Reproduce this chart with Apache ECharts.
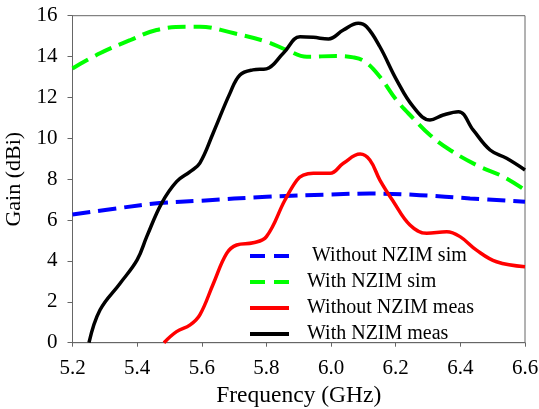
<!DOCTYPE html>
<html>
<head>
<meta charset="utf-8">
<script src="https://cdn.jsdelivr.net/npm/echarts@6/dist/echarts.min.js"></script>
<style>html,body{margin:0;padding:0;background:#fff}#c{width:539px;height:409px}</style>
</head>
<body>
<div id="c"></div>
<script>
// Series names
const names = ['Without NZIM sim', 'With NZIM sim', 'Without NZIM meas', 'With NZIM meas'];

// Without NZIM sim (blue dashed)
const woSimF = [5.2, 5.35, 5.47, 5.6, 5.8, 6.0, 6.12, 6.275, 6.43, 6.6];
const woSimG = [6.27, 6.6, 6.83, 6.95, 7.14, 7.25, 7.3, 7.22, 7.06, 6.9];

// With NZIM sim (green dashed)
const wSimF = [5.2, 5.285, 5.378, 5.46, 5.553, 5.594, 5.697, 5.80, 5.863, 5.925, 6.017, 6.069, 6.105, 6.151, 6.203, 6.254, 6.306, 6.368, 6.45, 6.533, 6.6];
const wSimG = [13.42, 14.16, 14.8, 15.3, 15.46, 15.46, 15.15, 14.73, 14.32, 13.99, 14.03, 13.96, 13.75, 13.01, 11.86, 10.98, 10.16, 9.43, 8.69, 8.12, 7.47];

// Without NZIM meas (red)
const woMeasF = [5.483, 5.522, 5.564, 5.594, 5.636, 5.677, 5.708, 5.759, 5.80, 5.857, 5.894, 5.914, 5.945, 5.997, 6.038, 6.09, 6.12, 6.151, 6.193, 6.244, 6.296, 6.358, 6.399, 6.45, 6.512, 6.6];
const woMeasG = [0, 0.54, 0.87, 1.36, 2.9, 4.37, 4.78, 4.89, 5.19, 6.97, 7.95, 8.2, 8.29, 8.29, 8.78, 9.23, 8.94, 7.96, 6.9, 5.76, 5.35, 5.43, 5.19, 4.53, 3.96, 3.72];

// With NZIM meas (black)
const wMeasF = [5.251, 5.285, 5.347, 5.40, 5.43, 5.476, 5.522, 5.564, 5.594, 5.635, 5.687, 5.718, 5.758, 5.80, 5.852, 5.904, 5.945, 5.992, 6.038, 6.084, 6.11, 6.151, 6.203, 6.254, 6.306, 6.347, 6.394, 6.44, 6.492, 6.543, 6.6];
const wMeasG = [0, 1.6, 2.9, 4.05, 5.2, 6.83, 7.88, 8.37, 8.79, 10.25, 12.2, 13.1, 13.35, 13.4, 14.16, 14.97, 14.94, 14.86, 15.3, 15.63, 15.46, 14.48, 12.85, 11.55, 10.9, 11.14, 11.3, 10.4, 9.43, 9.02, 8.45];

// Axis ticks
const xTicks = [5.2, 5.4, 5.6, 5.8, 6.0, 6.2, 6.4, 6.6];
const yTicks = [0, 2, 4, 6, 8, 10, 12, 14, 16];

const zip = (f, g) => f.map((v, i) => [v, g[i]]);
const font = 'Liberation Serif';
const axisGray = '#666';

const chart = echarts.init(document.getElementById('c'));
chart.setOption({
  animation: false,
  grid: { left: 72.5, right: 14, top: 15.7, bottom: 66.3, show: true, borderColor: axisGray, borderWidth: 1,
          containLabel: false, outerBoundsMode: 'none' },
  xAxis: {
    type: 'value', min: xTicks[0], max: xTicks[xTicks.length - 1], interval: 0.2,
    name: 'Frequency (GHz)', nameLocation: 'middle', nameGap: 32,
    nameTextStyle: { fontFamily: font, fontSize: 23.5, color: '#000' },
    axisLine: { lineStyle: { color: axisGray, width: 1 } },
    axisTick: { inside: false, length: 4, lineStyle: { color: axisGray } },
    axisLabel: { fontFamily: font, fontSize: 21, color: '#000', margin: 15, formatter: v => v.toFixed(1) },
    splitLine: { show: false }
  },
  yAxis: {
    type: 'value', min: yTicks[0], max: yTicks[yTicks.length - 1], interval: 2,
    name: 'Gain (dBi)', nameLocation: 'middle', nameGap: 34,
    nameTextStyle: { fontFamily: font, fontSize: 22, color: '#000' },
    axisLine: { show: true, lineStyle: { color: axisGray, width: 1 } },
    axisTick: { show: true, inside: false, length: 5, lineStyle: { color: axisGray } },
    axisLabel: { fontFamily: font, fontSize: 21, color: '#000', margin: 15 },
    splitLine: { show: false }
  },
  legend: {
    orient: 'vertical', left: 248, top: 246, padding: 0, itemWidth: 39, itemHeight: 14, itemGap: 6,
    itemStyle: { opacity: 0 },
    lineStyle: { width: 4 },
    textStyle: { fontFamily: font, fontSize: 20, color: '#000', lineHeight: 20, padding: [0, 0, 0, 13] },
    formatter: n => n === names[0] ? ' ' + n : n,
    data: [
      { name: names[0], lineStyle: { width: 4, type: [15, 9] } },
      { name: names[1], lineStyle: { width: 4, type: [15, 9] } },
      { name: names[2], lineStyle: { width: 4 } },
      { name: names[3], lineStyle: { width: 4 } }
    ]
  },
  series: [
    { name: names[0], type: 'line', data: zip(woSimF, woSimG), symbol: 'none', smooth: 0.4,
      lineStyle: { color: '#0000ff', width: 4, type: [18, 8] }, itemStyle: { color: '#0000ff' } },
    { name: names[1], type: 'line', data: zip(wSimF, wSimG), symbol: 'none', smooth: 0.4,
      lineStyle: { color: '#00ff00', width: 4, type: [18, 8] }, itemStyle: { color: '#00ff00' } },
    { name: names[2], type: 'line', data: zip(woMeasF, woMeasG), symbol: 'none', smooth: 0.4,
      lineStyle: { color: '#ff0000', width: 3.5 }, itemStyle: { color: '#ff0000' } },
    { name: names[3], type: 'line', data: zip(wMeasF, wMeasG), symbol: 'none', smooth: 0.4,
      lineStyle: { color: '#000000', width: 3.5 }, itemStyle: { color: '#000000' } }
  ]
});
</script>
</body>
</html>
